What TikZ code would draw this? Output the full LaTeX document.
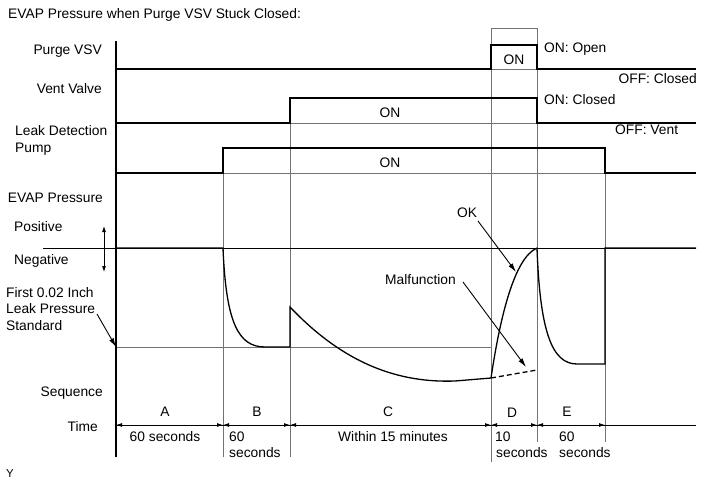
\documentclass[tikz,border=0pt]{standalone}
\usepackage{fontspec}
\setmainfont{Liberation Sans}
\usepackage{tikz}
\usetikzlibrary{arrows.meta}
\tikzstyle{txt}=[inner sep=0pt, font=\fontsize{13.8}{16}\selectfont]
\tikzstyle{signal}=[line width=1.7pt, line join=miter]
\tikzstyle{guide}=[draw=black!55, line width=0.8pt]
\tikzstyle{refline}=[draw=black, line width=0.8pt]
\tikzstyle{arrow}=[draw=black, line width=0.9pt, -{Latex[length=9pt,width=5pt]}]
\tikzstyle{dim}=[draw=black, line width=0.8pt, {Latex[length=6pt,width=4pt]}-{Latex[length=6pt,width=4pt]}]

\begin{document}
\begin{tikzpicture}[x=1pt,y=-1pt]
	\useasboundingbox (0,0) rectangle (711,479);
	\begin{scope}
		% texts on the left
		\node (title) at (8,18.5)[txt, anchor=base west] {EVAP Pressure when Purge VSV Stuck Closed:};
		\node (purge) at (102,54)[txt, anchor=base east] {Purge VSV};
		\node (vent) at (102,93)[txt, anchor=base east] {Vent Valve};
		\node (leak) at (15,135)[txt, anchor=base west] {Leak Detection};
		\node (pump) at (15,152)[txt, anchor=base west] {Pump};
		\node (evap) at (103,202)[txt, anchor=base east] {EVAP Pressure};
		\node (pos) at (14,231)[txt, anchor=base west] {Positive};
		\node (neg) at (14,264)[txt, anchor=base west] {Negative};
		\node (first) at (6,297)[txt, anchor=base west] {First 0.02 Inch};
		\node (leakp) at (6,313)[txt, anchor=base west] {Leak Pressure};
		\node (std) at (6,330)[txt, anchor=base west] {Standard};
		\node (seq) at (103,396)[txt, anchor=base east] {Sequence};
		\node (time) at (98,431)[txt, anchor=base east] {Time};
		\node (y) at (6,477)[txt, anchor=base west, font=\fontsize{11.5}{13}\selectfont] {Y};
	\end{scope}
	\begin{scope}
		% texts on the right and in the chart
		\node (onopen) at (544,52)[txt, anchor=base west] {ON: Open};
		\node (offclosed) at (697,83)[txt, anchor=base east] {OFF: Closed};
		\node (onclosed) at (544,104)[txt, anchor=base west] {ON: Closed};
		\node (offvent) at (615,134)[txt, anchor=base west] {OFF: Vent};
		\node (onpurge) at (514,64)[txt, anchor=base] {ON};
		\node (onvent) at (390,117)[txt, anchor=base] {ON};
		\node (onpump) at (390,167)[txt, anchor=base] {ON};
		\node (ok) at (467,217)[txt, anchor=base] {OK};
		\node (malf) at (385,284)[txt, anchor=base west] {Malfunction};
	\end{scope}
	\begin{scope}
		% sequence and time
		\node (a) at (165,416)[txt, anchor=base] {A};
		\node (b) at (257,416)[txt, anchor=base] {B};
		\node (c) at (388,416)[txt, anchor=base] {C};
		\node (d) at (512,417)[txt, anchor=base] {D};
		\node (e) at (567,416)[txt, anchor=base] {E};
		\node (ta) at (165,441)[txt, anchor=base] {60 seconds};
		\node (tb) at (229,441)[txt, anchor=base west] {60};
		\node (tb2) at (229,457)[txt, anchor=base west] {seconds};
		\node (tc) at (393,441)[txt, anchor=base] {Within 15 minutes};
		\node (td) at (495,441)[txt, anchor=base west] {10};
		\node (td2) at (496,457)[txt, anchor=base west] {seconds};
		\node (te) at (559,441)[txt, anchor=base west] {60};
		\node (te2) at (559,457)[txt, anchor=base west] {seconds};
	\end{scope}
	\begin{scope}
		% grid
		\coordinate (t0) at (116,425);
		\coordinate (t1) at (223,425);
		\coordinate (t2) at (290,425);
		\coordinate (t3) at (491,425);
		\coordinate (t4) at (537,425);
		\coordinate (t5) at (605,425);
		\coordinate (t6) at (696,425);
		\draw [guide] (223,148) -- (223,457);
		\draw [guide] (290,98) -- (290,457);
		\draw [guide] (491,28) -- (491,462);
		\draw [guide] (537,28) -- (537,442);
		\draw [guide] (605,148) -- (605,442);
		\draw [guide] (491,28) -- (537,28);
		\draw [guide] (491,69) -- (537,69);
		\draw [guide] (290,123) -- (537,123);
		\draw [guide] (223,173) -- (605,173);
		\draw [guide] (116,347) -- (491,347);
		\draw [refline] (43,248) -- (696,248);
		\draw [refline] (t0) -- (t6);
		\draw [line width=1.2pt] (116,41) -- (116,457);
	\end{scope}
	\begin{scope}
		% signals
		\draw [signal] (116,69) -- (491,69) -- (491,45) -- (537,45) -- (537,69) -- (696,69);
		\draw [signal] (116,123) -- (290,123) -- (290,98) -- (537,98) -- (537,123) -- (696,123);
		\draw [signal] (116,173) -- (223,173) -- (223,148) -- (605,148) -- (605,173) -- (696,173);
		\draw [signal, line width=1.3pt] (116,248) -- (223,248) .. controls (226,322) and (238,347) .. (265,347)
			-- (290,347) -- (290,307) .. controls (345,365) and (400,383) .. (455,381) -- (491,378);
		\draw [signal, line width=1.3pt] (491,378) .. controls (500,318) and (514,258) .. (537,248);
		\draw [line width=1.3pt, dashed, dash pattern=on 5pt off 3pt] (491,378) -- (537,370);
		\draw [signal, line width=1.3pt] (537,248) .. controls (540,332) and (552,364) .. (577,364)
			-- (605,364) -- (605,248) -- (696,248);
	\end{scope}
	\begin{scope}
		% arrows
		\coordinate (pn1) at (104,226);
		\coordinate (pn2) at (104,272);
		\coordinate (stdtail) at (97,314);
		\coordinate (stdhead) at (116,347);
		\coordinate (oktail) at (478,221);
		\coordinate (okhead) at (516,272);
		\coordinate (mftail) at (463,282);
		\coordinate (mfhead) at (526,367);
		\path [draw, line width=0.8pt, {Latex[length=6pt,width=4pt]}-{Latex[length=6pt,width=4pt]}] (pn1) -- (pn2);
		\path [arrow] (stdtail) -- (stdhead);
		\path [arrow] (oktail) -- (okhead);
		\path [arrow] (mftail) -- (mfhead);
		\path [dim] (t0) -- (t1);
		\path [dim] (t1) -- (t2);
		\path [dim] (t2) -- (t3);
		\path [dim] (t3) -- (t4);
		\path [dim] (t4) -- (t5);
	\end{scope}
\end{tikzpicture}
\end{document}
